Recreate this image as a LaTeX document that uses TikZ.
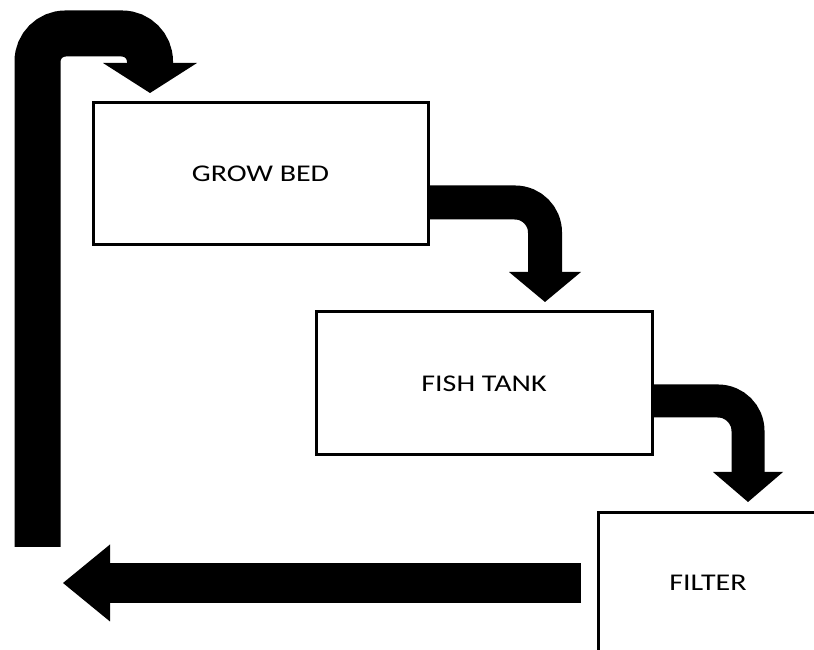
\documentclass[tikz,border=0pt]{standalone}
\usepackage{fontspec}
\setmainfont{Carlito}[FakeStretch=1.25]
\usetikzlibrary{arrows.meta}

\begin{document}
\begin{tikzpicture}[x=1pt,y=1pt]
        \tikzstyle{every node}=[font=\fontsize{24}{28}\selectfont]
        \tikzset{tank/.style = {draw,line width=3pt,inner sep=0pt,outer sep=0pt}}
        \tikzset{flow/.style n args = {3}{line width=#1,rounded corners=30pt,
            -{Triangle[width=#2,length=#3,line width=0pt]}}}
        \useasboundingbox (0,0) rectangle (814,650);
        % boxes
        \node[tank,minimum width=335pt,minimum height=142pt] (growbed) at (260.5,476) {GROW BED};
        \node[tank,minimum width=336pt,minimum height=143pt] (fishtank) at (484,266.5) {FISH TANK};
        \node[tank,minimum width=220pt,minimum height=140pt] (filter) at (708,67) {FILTER};
        % free ends of the return pipe
        \coordinate (inlet) at (37.5,103);
        \coordinate (riser) at (37.5,616.5);
        \coordinate (sump) at (63,67);
        % arrows
        \draw[flow={34pt}{72pt}{30pt}] ([yshift=-28.5pt]growbed.east) -| ([xshift=61pt,yshift=10pt]fishtank.north);
        \draw[flow={33pt}{70pt}{30pt}] ([yshift=-17.5pt]fishtank.east) -| ([xshift=40pt,yshift=11pt]filter.north);
        \draw[flow={40pt}{77pt}{47pt}] ([xshift=-17pt]filter.west) -- (sump);
        \draw[flow={46pt}{94pt}{30pt},rounded corners=28pt] (inlet) -- (riser) -| ([xshift=57pt,yshift=10pt]growbed.north west);
      \end{tikzpicture}
\end{document}
